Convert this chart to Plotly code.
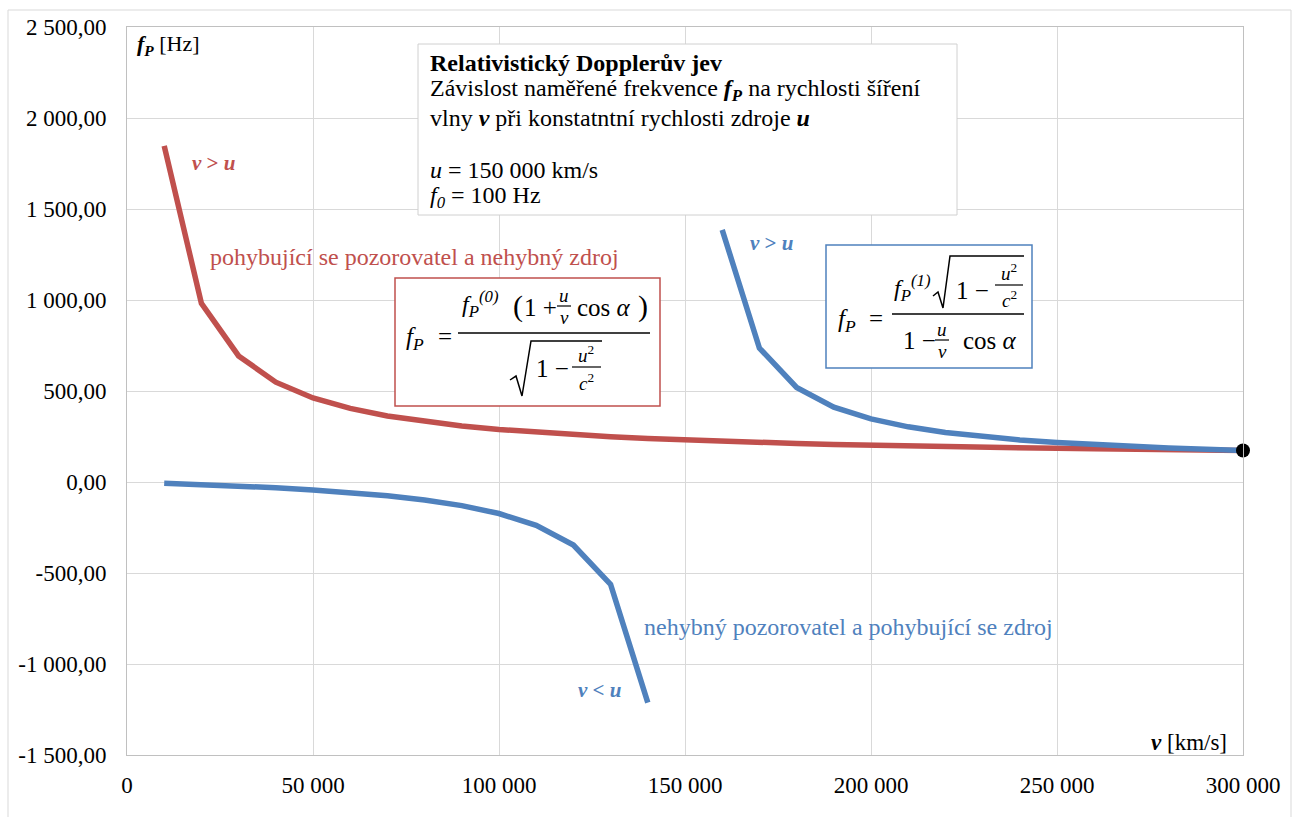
import plotly.graph_objects as go

# ---------------- data ----------------
v_kms = [10000, 20000, 30000, 40000, 50000, 60000, 70000, 80000, 90000, 100000,
         110000, 120000, 130000, 140000, 150000, 160000, 170000, 180000, 190000, 200000,
         210000, 220000, 230000, 240000, 250000, 260000, 270000, 280000, 290000, 300000]

# moving observer, stationary source (red)
f_observer = [1847.5, 981.5, 692.8, 548.5, 461.9, 404.1, 362.9, 332.0, 307.9, 288.7,
              273.0, 259.8, 248.7, 239.1, 230.9, 223.7, 217.4, 211.7, 206.7, 202.1,
              198.0, 194.3, 190.9, 187.6, 184.8, 182.2, 179.6, 177.5, 175.4, 173.2]

# stationary observer, moving source (blue); gap at v = u
f_source = [-6.2, -13.3, -21.7, -31.5, -43.3, -57.7, -75.8, -99.0, -129.9, -173.2,
            -238.2, -346.4, -562.9, -1212.4, None, 1385.6, 736.1, 519.6, 411.4, 346.4,
            303.1, 272.2, 249.0, 230.9, 216.5, 204.7, 194.9, 186.5, 179.4, 173.2]

end_v = [300000]
end_f = [173.2]

x_tickvals = [0, 50000, 100000, 150000, 200000, 250000, 300000]
x_ticktext = ["0", "50 000", "100 000", "150 000", "200 000", "250 000", "300 000"]
y_tickvals = [-1500, -1000, -500, 0, 500, 1000, 1500, 2000, 2500]
y_ticktext = ["-1 500,00", "-1 000,00", "-500,00", "0,00", "500,00",
              "1 000,00", "1 500,00", "2 000,00", "2 500,00"]

# ---------------- styling ----------------
FONT = "Liberation Serif"
RED = "#C0504D"
BLUE = "#4F81BD"
W, H = 1294, 817
L, R, T, B = 127, 1243, 27, 755


def P(X, Y):
    return (X - L) / (R - L), (B - Y) / (B - T)


annotations = []
shapes = []


def txt(X, Y, s, size=24, color="black", xanchor="left", yanchor="middle"):
    x, y = P(X, Y)
    annotations.append(dict(x=x, y=y, xref="paper", yref="paper", text=s,
                            showarrow=False, xanchor=xanchor, yanchor=yanchor,
                            font=dict(family=FONT, size=size, color=color)))


def hline(X0, X1, Y, color="black", width=1.5):
    x0, y0 = P(X0, Y)
    x1, _ = P(X1, Y)
    shapes.append(dict(type="line", xref="paper", yref="paper", x0=x0, x1=x1,
                       y0=y0, y1=y0, line=dict(color=color, width=width)))


def box(X0, Y0, X1, Y1, color, width=1.5):
    x0, y0 = P(X0, Y0)
    x1, y1 = P(X1, Y1)
    shapes.append(dict(type="rect", xref="paper", yref="paper", x0=x0, x1=x1,
                       y0=y0, y1=y1, line=dict(color=color, width=width),
                       fillcolor="white", layer="above"))


def path(pts, width=1.5):
    d = ""
    for i, (X, Y) in enumerate(pts):
        x, y = P(X, Y)
        d += ("M" if i == 0 else "L") + f"{x:.5f},{y:.5f} "
    shapes.append(dict(type="path", xref="paper", yref="paper", path=d.strip(),
                       line=dict(color="black", width=width)))


# outer frame
fx0, fy0 = P(8, 10)
fx1, fy1 = P(1291, 840)
shapes.append(dict(type="rect", xref="paper", yref="paper", x0=fx0, x1=fx1,
                   y0=fy0, y1=fy1, line=dict(color="#d9d9d9", width=1), layer="below"))

# ---- info box ----
box(418, 44, 957, 215, "#d0d0d0", 1)
txt(428, 63, "<b>Relativistický Dopplerův jev</b>")
txt(428, 90, "Závislost naměřené frekvence <b><i>f<sub>P</sub></i></b> na rychlosti šíření")
txt(428, 118, "vlny <b><i>v</i></b> při konstatntní rychlosti zdroje <b><i>u</i></b>")
txt(428, 170, "<i>u</i> = 150 000 km/s")
txt(428, 197, "<i>f<sub>0</sub></i> = 100 Hz")

# ---- red formula box ----
box(395, 278, 660, 406, RED, 1.5)
txt(404, 338, "<i>f<sub>P</sub></i>", 25)
txt(445, 336, "=", 25, xanchor="center")
hline(458, 650, 333)
txt(460, 304, "<i>f<sub>P</sub><sup>(0)</sup></i>", 24)
txt(511, 306, "(", 30)
txt(522, 307, "1 +", 25)
hline(557, 571, 306, width=1.2)
txt(564, 295, "<i>u</i>", 19, xanchor="center")
txt(564, 317, "<i>v</i>", 19, xanchor="center")
txt(575, 307, "cos <i>α</i>", 25)
txt(636, 306, ")", 30)
path([(510, 380), (516, 376), (522, 396), (531, 341), (602, 341)])
txt(534, 368, "1 −", 25)
hline(572, 601, 367, width=1.2)
txt(586, 354, "<i>u</i><sup>2</sup>", 19, xanchor="center")
txt(586, 382, "<i>c</i><sup>2</sup>", 19, xanchor="center")

# ---- blue formula box ----
box(826, 245, 1032, 368, BLUE, 1.5)
txt(836, 320, "<i>f<sub>P</sub></i>", 25)
txt(876, 318, "=", 25, xanchor="center")
hline(892, 1024, 314)
txt(892, 288, "<i>f<sub>P</sub><sup>(1)</sup></i>", 24)
path([(933, 296), (938, 292), (943, 308), (950, 256), (1024, 256)])
txt(954, 290, "1 −", 25)
hline(995, 1023, 285, width=1.2)
txt(1009, 272, "<i>u</i><sup>2</sup>", 19, xanchor="center")
txt(1009, 299, "<i>c</i><sup>2</sup>", 19, xanchor="center")
txt(901, 340, "1 −", 25)
hline(935, 949, 340, width=1.2)
txt(942, 329, "<i>u</i>", 19, xanchor="center")
txt(942, 351, "<i>v</i>", 19, xanchor="center")
txt(961, 340, "cos <i>α</i>", 25)

# ---- axis titles ----
txt(135, 45, "<b><i>f<sub>P</sub></i></b> [Hz]", 22)
txt(1229, 742, "<b><i>v</i></b> [km/s]", 23, xanchor="right")

# ---- curve labels ----
txt(190, 163, "<b><i>v</i> &gt; <i>u</i></b>", 21, RED)
txt(208, 257, "pohybující se pozorovatel a nehybný zdroj", 24, RED)
txt(748, 243, "<b><i>v</i> &gt; <i>u</i></b>", 21, BLUE)
txt(642, 627, "nehybný pozorovatel a pohybující se zdroj", 24, BLUE)
txt(576, 690, "<b><i>v</i> &lt; <i>u</i></b>", 21, BLUE)

fig = go.Figure()
fig.add_trace(go.Scatter(x=v_kms, y=f_observer, mode="lines",
                         line=dict(color=RED, width=5.5), hoverinfo="x+y"))
fig.add_trace(go.Scatter(x=v_kms, y=f_source, mode="lines",
                         line=dict(color=BLUE, width=5.5), connectgaps=False,
                         hoverinfo="x+y"))
fig.add_trace(go.Scatter(x=end_v, y=end_f, mode="markers",
                         marker=dict(color="black", size=14), cliponaxis=False))

fig.update_layout(
    width=W, height=H, autosize=False,
    margin=dict(l=L, r=W - R, t=T, b=H - B, pad=0),
    paper_bgcolor="white", plot_bgcolor="white",
    showlegend=False,
    font=dict(family=FONT, size=22, color="black"),
    annotations=annotations, shapes=shapes,
    xaxis=dict(range=[0, 300000], tickmode="array", tickvals=x_tickvals,
               ticktext=x_ticktext, showgrid=True, gridcolor="#d9d9d9", gridwidth=1,
               zeroline=False, showline=True, linecolor="#c0c0c0", linewidth=1,
               mirror=True, ticks="", ticklabelstandoff=9,
               tickfont=dict(family=FONT, size=23, color="black")),
    yaxis=dict(range=[-1500, 2500], tickmode="array", tickvals=y_tickvals,
               ticktext=y_ticktext, showgrid=True, gridcolor="#d9d9d9", gridwidth=1,
               zeroline=False, showline=True, linecolor="#c0c0c0", linewidth=1,
               mirror=True, ticks="", ticklabelstandoff=15,
               tickfont=dict(family=FONT, size=23, color="black")),
)

fig.write_html("out.html", config={"displayModeBar": False},
               post_script="document.body.style.margin='0';")
